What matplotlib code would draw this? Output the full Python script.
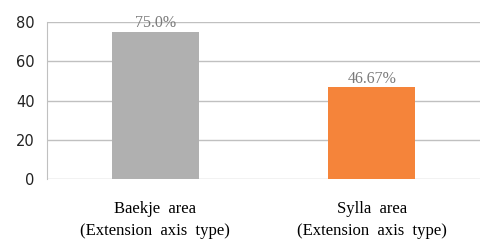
import matplotlib
matplotlib.use("Agg")
import matplotlib.pyplot as plt

categories = ["Baekje  area\n(Extension  axis  type)", "Sylla  area\n(Extension  axis  type)"]
values = [75.0, 46.67]
value_labels = ["75.0%", "46.67%"]
colors = ["#B0B0B0", "#F5843A"]

fig = plt.figure(figsize=(5, 2.48), dpi=100)
ax = fig.add_axes([0.094, 0.278, 0.866, 0.633])

x = range(len(values))
bars = ax.bar(x, values, width=0.4, color=colors, zorder=3)

for b, lab in zip(bars, value_labels):
    ax.text(b.get_x() + b.get_width() / 2, b.get_height() + 0.3, lab,
            ha="center", va="bottom", family="Liberation Serif",
            fontsize=11.5, color="#7a7a7a")

ax.set_xlim(-0.5, 1.5)
ax.set_ylim(0, 80)
ax.set_yticks([0, 20, 40, 60, 80])
ax.set_xticks(list(x))
ax.set_xticklabels(categories, family="Liberation Serif", fontsize=12, linespacing=1.45)
ax.grid(axis="y", color="#c0c0c0", linewidth=1, zorder=0)
for s in ["top", "right", "bottom"]:
    ax.spines[s].set_visible(False)
ax.spines["left"].set_color("#c0c0c0")
ax.tick_params(axis="both", length=0)
ax.tick_params(axis="y", labelsize=10.5, labelcolor="#222222", pad=9)
ax.tick_params(axis="x", pad=16)

fig.savefig("out.png", dpi=100)
